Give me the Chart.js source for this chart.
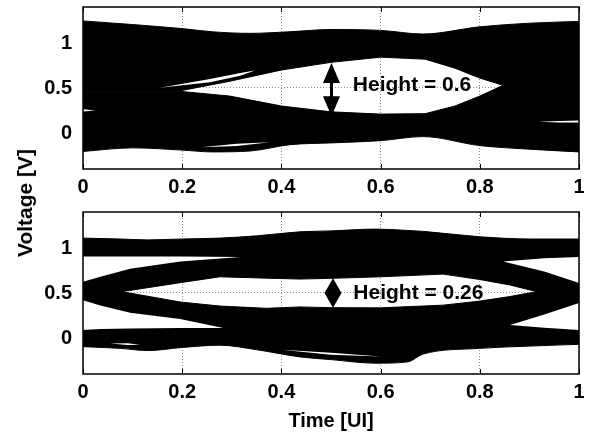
<!DOCTYPE html>
<html>
<head>
<meta charset="utf-8">
<title>Eye diagrams</title>
<script src="https://cdn.jsdelivr.net/npm/chart.js@4.4.1/dist/chart.umd.min.js"></script>
<style>
  body { margin: 0; background: #fff; }
  #wrap { position: relative; width: 591px; height: 438px; }
  #wrap canvas { position: absolute; left: 0; }
  #topChart { top: 0; }
  #botChart { top: 200px; }
  #ylab {
    position: absolute; left: 25px; top: 203px;
    transform: translate(-50%, -50%) rotate(-90deg);
    font: bold 21px "Liberation Sans", Arial, sans-serif;
    white-space: nowrap;
  }
</style>
</head>
<body>
<div id="wrap">
  <canvas id="topChart" width="591" height="200"></canvas>
  <canvas id="botChart" width="591" height="238"></canvas>
  <div id="ylab">Voltage [V]</div>
</div>
<script>
// axis ticks
const xTicks = [0, 0.2, 0.4, 0.6, 0.8, 1];
const yTicks = [0, 0.5, 1];

// ---- upper eye ----
// outer envelope of all traces
const topEnvX  = [0, 0.1, 0.2, 0.26, 0.337, 0.417, 0.5, 0.6, 0.685, 0.8, 0.9, 1];
const topEnvHi = [1.245, 1.205, 1.16, 1.125, 1.107, 1.125, 1.15, 1.14, 1.10, 1.18, 1.22, 1.24];
const topEnvLo = [-0.205, -0.165, -0.19, -0.21, -0.20, -0.13, -0.11, -0.085, -0.04, -0.14, -0.18, -0.21];
// eye opening
const topEyeX  = [0, 0.192, 0.296, 0.4, 0.5, 0.6, 0.69, 0.75, 0.8, 0.847, 1];
const topEyeHi = [0.465, 0.465, 0.575, 0.70, 0.785, 0.843, 0.82, 0.72, 0.61, 0.53, 0.53];
const topEyeLo = [0.465, 0.465, 0.41, 0.30, 0.235, 0.21, 0.215, 0.30, 0.41, 0.53, 0.53];
// thin gaps between traces
const topGap1X  = [0.155, 0.256, 0.317, 0.347];
const topGap1Hi = [0.502, 0.60, 0.667, 0.696];
const topGap1Lo = [0.502, 0.565, 0.637, 0.696];
const topGap2X  = [0.239, 0.31, 0.377];
const topGap2Hi = [-0.157, -0.12, -0.102];
const topGap2Lo = [-0.157, -0.145, -0.102];
const topGap3X  = [0.918, 0.96, 1];
const topGap3Hi = [0.124, 0.132, 0.14];
const topGap3Lo = [0.124, 0.118, 0.118];
const topGap4X  = [0, 0.025];
const topGap4Hi = [0.265, 0.25];
const topGap4Lo = [0.24, 0.25];

// ---- lower eye ----
const botEnvX  = [0, 0.075, 0.13, 0.2, 0.276, 0.35, 0.4375, 0.5, 0.59, 0.655, 0.685, 0.8, 0.9, 1];
const botEnvHi = [1.11, 1.10, 1.09, 1.10, 1.11, 1.135, 1.18, 1.19, 1.21, 1.195, 1.185, 1.125, 1.10, 1.10];
const botEnvLo = [-0.096, -0.115, -0.14, -0.105, -0.08, -0.13, -0.21, -0.24, -0.28, -0.265, -0.18, -0.115, -0.09, -0.07];
const botEyeX  = [0, 0.078, 0.196, 0.276, 0.37, 0.4375, 0.5, 0.6, 0.726, 0.8, 0.86, 0.915, 1];
const botEyeHi = [0.515, 0.515, 0.615, 0.68, 0.665, 0.655, 0.663, 0.68, 0.71, 0.65, 0.59, 0.515, 0.515];
const botEyeLo = [0.515, 0.515, 0.40, 0.355, 0.33, 0.345, 0.337, 0.335, 0.365, 0.41, 0.46, 0.515, 0.515];
// side openings between the 0 / 0.5 / 1 levels
const botUpLeftX  = [0, 0.035, 0.095, 0.196, 0.317];
const botUpLeftHi = [0.905, 0.905, 0.905, 0.905, 0.90];
const botUpLeftLo = [0.625, 0.68, 0.77, 0.85, 0.90];
const botLoLeftX  = [0, 0.035, 0.095, 0.196, 0.283];
const botLoLeftHi = [0.42, 0.36, 0.28, 0.21, 0.11];
const botLoLeftLo = [0.09, 0.10, 0.105, 0.11, 0.11];
const botUpRightX  = [0.847, 0.93, 1];
const botUpRightHi = [0.85, 0.885, 0.90];
const botUpRightLo = [0.85, 0.74, 0.61];
const botLoRightX  = [0.861, 0.93, 1];
const botLoRightHi = [0.145, 0.26, 0.39];
const botLoRightLo = [0.145, 0.115, 0.09];
const botGap1X  = [0.055, 0.09, 0.115];
const botGap1Hi = [-0.06, -0.058, -0.075];
const botGap1Lo = [-0.06, -0.078, -0.075];
const botGap2X  = [0.40, 0.5, 0.6];
const botGap2Hi = [-0.13, -0.163, -0.205];
const botGap2Lo = [-0.13, -0.185, -0.205];

// eye height markers
const topArrow = { x: 0.501, from: 0.187, to: 0.777 };
const topLabel = { x: 0.544, y: 0.53, text: 'Height = 0.6' };
const botArrow = { x: 0.504, from: 0.337, to: 0.663 };
const botLabel = { x: 0.545, y: 0.503, text: 'Height = 0.26' };

const FONT = '"Liberation Sans", Arial, Helvetica, sans-serif';
Chart.defaults.font.family = FONT;
Chart.defaults.font.size = 20;
Chart.defaults.font.weight = 'bold';
Chart.defaults.color = '#000';

const BLACK = '#000', WHITE = '#fff';

function pts(xs, ys) {
  return xs.map((x, i) => ({ x: x, y: ys[i] }));
}

// one boundary curve; fillPrev fills down/up to the dataset before it
function curve(xs, ys, color, order, smooth, fillPrev) {
  return {
    data: pts(xs, ys),
    pointRadius: 0,
    order: order,
    tension: smooth ? 0.4 : 0,
    cubicInterpolationMode: smooth ? 'monotone' : 'default',
    borderColor: color,
    borderWidth: color === BLACK ? 1 : 0,
    backgroundColor: color,
    fill: fillPrev ? '-1' : false
  };
}

// black traces: envelope minus the eye opening
function traces(envX, envHi, envLo, eyeX, eyeHi, eyeLo) {
  return [
    curve(envX, envHi, BLACK, 3, true, false),
    curve(eyeX, eyeHi, BLACK, 3, false, true),
    curve(eyeX, eyeLo, BLACK, 3, false, false),
    curve(envX, envLo, BLACK, 3, true, true)
  ];
}

// white opening painted over the traces
function gap(xs, hi, lo) {
  return [curve(xs, hi, WHITE, 1, false, false), curve(xs, lo, WHITE, 1, false, true)];
}

const framePlugin = {
  id: 'frame',
  afterDatasetsDraw(chart) {
    const { ctx, chartArea: a, scales: { x, y } } = chart;
    ctx.save();
    ctx.strokeStyle = '#000';
    ctx.lineWidth = 1;
    ctx.beginPath();
    xTicks.forEach(v => {
      const px = Math.round(x.getPixelForValue(v)) + 0.5;
      ctx.moveTo(px, a.bottom); ctx.lineTo(px, a.bottom - 5);
      ctx.moveTo(px, a.top); ctx.lineTo(px, a.top + 5);
    });
    yTicks.forEach(v => {
      const py = Math.round(y.getPixelForValue(v)) + 0.5;
      ctx.moveTo(a.left, py); ctx.lineTo(a.left + 5, py);
      ctx.moveTo(a.right, py); ctx.lineTo(a.right - 5, py);
    });
    ctx.stroke();
    ctx.lineWidth = 1.5;
    ctx.strokeRect(a.left, a.top, a.width, a.height);

    const mark = chart.options.plugins.frame;
    if (mark && mark.arrow) {
      const ar = mark.arrow, lb = mark.label;
      const cx = x.getPixelForValue(ar.x);
      const yTop = y.getPixelForValue(ar.to);
      const yBot = y.getPixelForValue(ar.from);
      const head = Math.min(20, (yBot - yTop) / 2);
      const hw = 8.5;
      ctx.fillStyle = '#000';
      ctx.beginPath();
      ctx.moveTo(cx, yTop); ctx.lineTo(cx + hw, yTop + head); ctx.lineTo(cx - hw, yTop + head);
      ctx.closePath(); ctx.fill();
      ctx.beginPath();
      ctx.moveTo(cx, yBot); ctx.lineTo(cx + hw, yBot - head); ctx.lineTo(cx - hw, yBot - head);
      ctx.closePath(); ctx.fill();
      if (yBot - yTop > 2 * head) {
        ctx.lineWidth = 3;
        ctx.beginPath();
        ctx.moveTo(cx, yTop + head - 1); ctx.lineTo(cx, yBot - head + 1);
        ctx.stroke();
      }
      ctx.font = 'bold 21px ' + FONT;
      ctx.textAlign = 'left';
      ctx.textBaseline = 'middle';
      ctx.fillText(lb.text, x.getPixelForValue(lb.x), y.getPixelForValue(lb.y));
    }
    ctx.restore();
  }
};

function makeOptions(padTop, xHeight, mark, withTitle) {
  return {
    responsive: false,
    animation: false,
    devicePixelRatio: 1,
    layout: { padding: { top: padTop, right: 12, left: 0, bottom: 0 } },
    plugins: { legend: { display: false }, tooltip: { enabled: false }, frame: mark },
    scales: {
      x: {
        type: 'linear', min: 0, max: 1,
        afterBuildTicks: s => { s.ticks = xTicks.map(v => ({ value: v })); },
        afterFit: s => { s.height = xHeight; s.paddingLeft = 0; s.paddingRight = 0; },
        ticks: { padding: 6, autoSkip: false, maxRotation: 0, callback: v => String(v) },
        grid: { color: '#8c8c8c', lineWidth: 1, drawTicks: false },
        border: { display: false, dash: [1, 2] },
        title: { display: withTitle, text: 'Time [UI]', font: { size: 20, weight: 'bold' }, padding: { top: 0, bottom: 5 } }
      },
      y: {
        type: 'linear', min: -0.4, max: 1.4,
        afterBuildTicks: s => { s.ticks = yTicks.map(v => ({ value: v })); },
        afterFit: s => { s.width = 83; s.paddingTop = 0; s.paddingBottom = 0; },
        ticks: { padding: 11, callback: v => String(v) },
        grid: { color: '#8c8c8c', lineWidth: 1, drawTicks: false },
        border: { display: false, dash: [1, 2] }
      }
    }
  };
}

new Chart(document.getElementById('topChart'), {
  type: 'line',
  data: {
    datasets: [].concat(
      traces(topEnvX, topEnvHi, topEnvLo, topEyeX, topEyeHi, topEyeLo),
      gap(topGap1X, topGap1Hi, topGap1Lo),
      gap(topGap2X, topGap2Hi, topGap2Lo),
      gap(topGap3X, topGap3Hi, topGap3Lo),
      gap(topGap4X, topGap4Hi, topGap4Lo)
    )
  },
  options: makeOptions(7, 31, { arrow: topArrow, label: topLabel }, false),
  plugins: [framePlugin]
});

new Chart(document.getElementById('botChart'), {
  type: 'line',
  data: {
    datasets: [].concat(
      traces(botEnvX, botEnvHi, botEnvLo, botEyeX, botEyeHi, botEyeLo),
      gap(botUpLeftX, botUpLeftHi, botUpLeftLo),
      gap(botLoLeftX, botLoLeftHi, botLoLeftLo),
      gap(botUpRightX, botUpRightHi, botUpRightLo),
      gap(botLoRightX, botLoRightHi, botLoRightLo),
      gap(botGap1X, botGap1Hi, botGap1Lo),
      gap(botGap2X, botGap2Hi, botGap2Lo)
    )
  },
  options: makeOptions(12, 64, { arrow: botArrow, label: botLabel }, true),
  plugins: [framePlugin]
});
</script>
</body>
</html>
